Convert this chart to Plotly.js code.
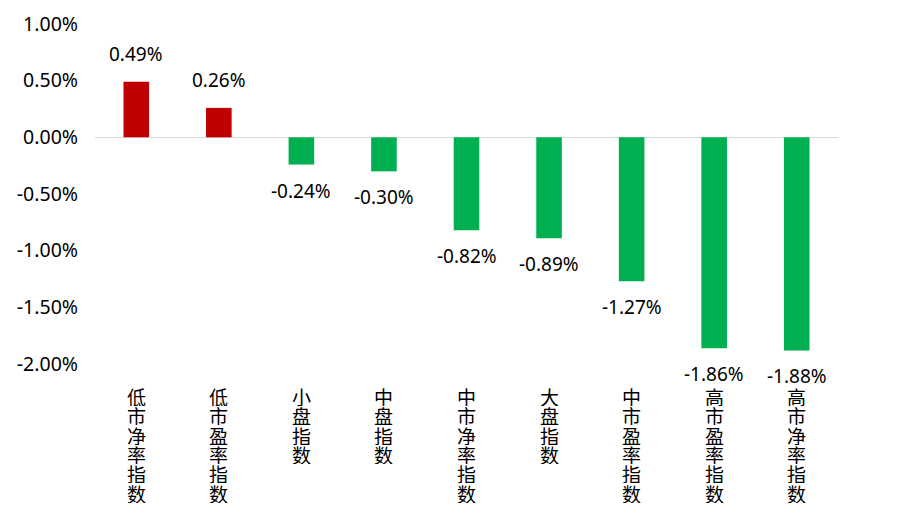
<!DOCTYPE html>
<html>
<head>
<meta charset="utf-8">
<script src="https://cdn.plot.ly/plotly-3.0.1.min.js"></script>
<style>
  html, body { margin: 0; padding: 0; background: #fff; }
  #chart { width: 918px; height: 516px; }
</style>
</head>
<body>
<div id="chart"></div>
<script>
const categories = ["低市净率指数", "低市盈率指数", "小盘指数", "中盘指数", "中市净率指数",
                    "大盘指数", "中市盈率指数", "高市盈率指数", "高市净率指数"];
const values = [0.49, 0.26, -0.24, -0.30, -0.82, -0.89, -1.27, -1.86, -1.88];
const yTicks = [1.0, 0.5, 0.0, -0.5, -1.0, -1.5, -2.0];

const FONT = "'Noto Sans', 'Noto Sans CJK SC', sans-serif";
const CJK = "'Noto Sans CJK SC', sans-serif";

let bars = {
  x: categories,
  y: values,
  type: "bar",
  width: 0.31,
  marker: {
    color: values.map(v => v >= 0 ? "#C00000" : "#00B050"),
  },
  hoverinfo: "skip",
};

// value labels above / below each bar
let labels = values.map((v, i) => ({
  x: categories[i],
  y: v,
  text: v.toFixed(2) + "%",
  showarrow: false,
  yanchor: v >= 0 ? "bottom" : "top",
  yshift: v >= 0 ? 13 : -11,
  font: {size: 19, color: "#000", family: FONT},
}));

// category names written top to bottom, one character per row (tight spacing)
let catLabels = [];
categories.forEach(c => {
  c.split("").forEach((ch, k) => {
    catLabels.push({
      x: c,
      xref: "x",
      yref: "paper",
      y: 0,
      yanchor: "top",
      yshift: -(21 + k * 19.3),
      height: 19,
      valign: "middle",
      text: ch,
      showarrow: false,
      font: {size: 19, color: "#000", family: CJK},
    });
  });
});

let layout = {
  width: 918,
  height: 516,
  margin: {l: 95, r: 80, t: 24, b: 152},
  paper_bgcolor: "#fff",
  plot_bgcolor: "#fff",
  showlegend: false,
  xaxis: {
    showticklabels: false,
    showgrid: false,
    showline: false,
    ticks: "",
  },
  yaxis: {
    range: [-2.0, 1.0],
    tickvals: yTicks,
    ticktext: yTicks.map(t => t.toFixed(2) + "%"),
    showgrid: false,
    zeroline: true,
    zerolinecolor: "#d9d9d9",
    zerolinewidth: 1.5,
    showline: false,
    ticks: "",
    ticklabelstandoff: 16,
    tickfont: {size: 19.5, color: "#000", family: FONT},
  },
  annotations: labels.concat(catLabels),
};

Plotly.newPlot("chart", [bars], layout, {displaylogo: false, staticPlot: true});
</script>
</body>
</html>
